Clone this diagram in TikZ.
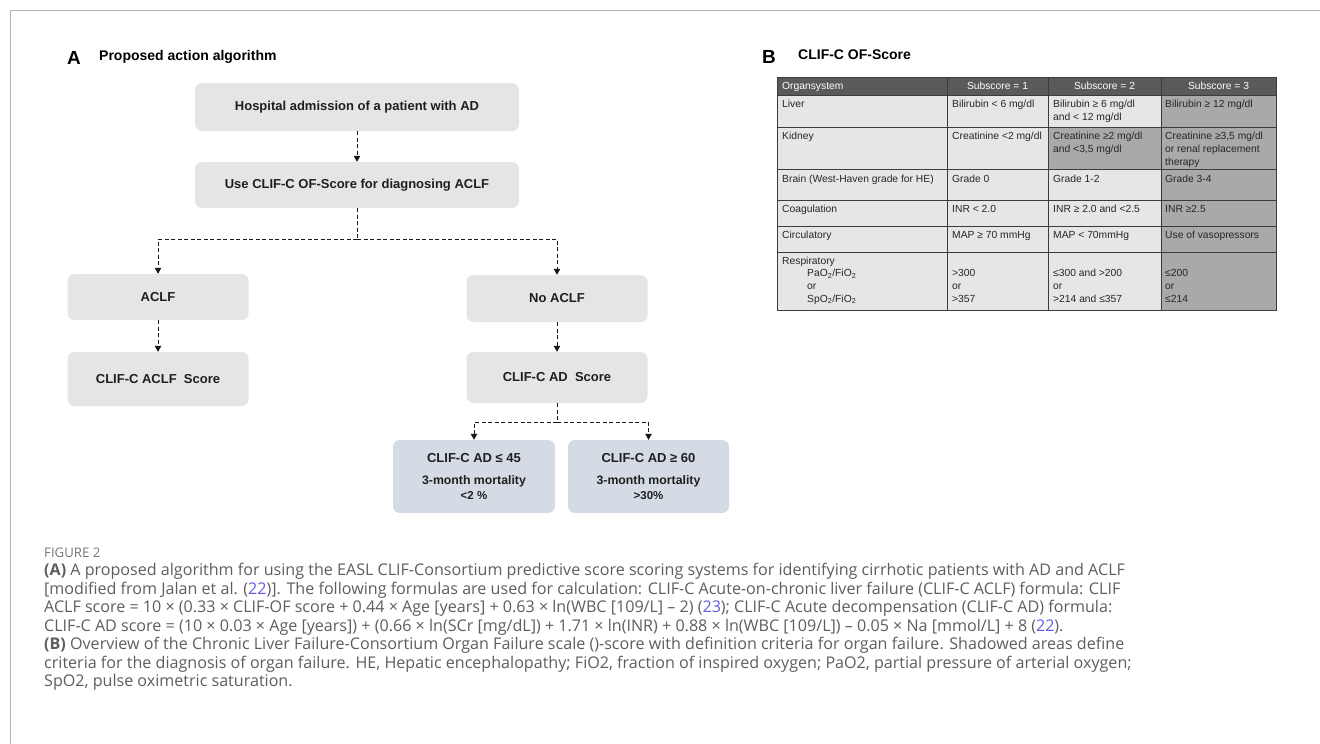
\documentclass[tikz,border=0pt]{standalone}
\usepackage{fontspec}
\setmainfont{Liberation Sans}
\newfontfamily\capfont{Open Sans}
\usetikzlibrary{arrows.meta}
\definecolor{boxgray}{HTML}{E6E5E6}
\definecolor{boxblue}{HTML}{D5DBE4}
\definecolor{hdr}{HTML}{5A5A5A}
\definecolor{cellL}{HTML}{E7E6E7}
\definecolor{cellD}{HTML}{ABA8A9}
\definecolor{gridc}{HTML}{3C3C3C}
\definecolor{capgray}{HTML}{5E5E5E}
\definecolor{figgray}{HTML}{767676}
\definecolor{refblue}{HTML}{5F5FE0}
\definecolor{framec}{HTML}{B4B4B4}
\newcount\tcnt
\newcommand\tabfont{\fontsize{10.3}{12.7}\selectfont}
\newcommand\ct[3]{\global\advance\tcnt by 1\relax
  \node[tabtxt] (tt\the\tcnt) at (#1,#2) {#3};}
\newcommand\capline[2]{\global\advance\tcnt by 1\relax
  \node[captxt] (cl\the\tcnt) at (44,#1) {#2};}
\newcommand\rf[1]{\textcolor{refblue}{#1}}
\begin{document}
\begin{tikzpicture}[x=1pt,y=-1pt,
  fbox/.style={rounded corners=7pt, fill=boxgray, draw=none, inner sep=0pt,
    font=\fontsize{13}{15}\selectfont\bfseries, text=black!88},
  bbox/.style={fbox, fill=boxblue, align=center},
  arr/.style={draw=black!90, line width=0.8pt, dash pattern=on 4pt off 2.5pt,
    -{Triangle[width=6.5pt,length=6pt]}},
  dline/.style={draw=black!90, line width=0.8pt, dash pattern=on 4pt off 2.5pt},
  tabtxt/.style={anchor=base west, inner sep=0pt, font=\tabfont, text=black!85},
  hdrtxt/.style={anchor=base, inner sep=0pt, font=\tabfont, text=white},
  captxt/.style={anchor=base west, inner sep=0pt,
    font=\capfont\fontsize{16.1}{18}\selectfont, text=capgray},
  lbl/.style={anchor=base west, inner sep=0pt, font=\fontsize{19}{20}\selectfont\bfseries},
  ttl/.style={anchor=base west, inner sep=0pt, font=\fontsize{14}{16}\selectfont\bfseries}
]
\useasboundingbox (0,0) rectangle (1320,744);
\fill[white] (0,0) rectangle (1320,744);
% frame
\draw[framec, line width=1.4pt] (1320,10.5) -- (10.5,10.5) -- (10.5,744);

% ---------- panel A ----------
\node[lbl] (la) at (67,64) {A};
\node[ttl] (ta) at (99,60) {Proposed action algorithm};

\node[fbox, minimum width=324pt, minimum height=48pt] (b1) at (357,107) {Hospital admission of a patient with AD};
\node[fbox, minimum width=324pt, minimum height=46pt] (b2) at (357,185) {Use CLIF-C OF-Score for diagnosing ACLF};
\node[fbox, minimum width=181pt, minimum height=46pt] (aclf) at (158,297) {ACLF};
\node[fbox, minimum width=181pt, minimum height=54pt] (caclf) at (158,379) {CLIF-C ACLF\ \ Score};
\node[fbox, minimum width=181pt, minimum height=47pt] (noaclf) at (557,298.5) {No ACLF};
\node[fbox, minimum width=181pt, minimum height=51pt] (cad) at (557,377.5) {CLIF-C AD\ \ Score};
\node[bbox, minimum width=162pt, minimum height=73pt] (low) at (474,476.5)
  {CLIF-C AD ≤ 45\\[7pt]{\fontsize{12.3}{15}\selectfont 3-month mortality}\\{\fontsize{11.5}{14}\selectfont <2 \%}};
\node[bbox, minimum width=161pt, minimum height=73pt] (high) at (648.5,476.5)
  {CLIF-C AD ≥ 60\\[7pt]{\fontsize{12.3}{15}\selectfont 3-month mortality}\\{\fontsize{11.5}{14}\selectfont >30\%}};

\coordinate (j1) at (357,239);
\coordinate (j2) at (557,422);
\draw[arr] (b1) -- (b2);
\draw[dline] (b2.south) -- (j1);
\draw[arr] (j1) -| (aclf.north);
\draw[arr] (j1) -| (noaclf.north);
\draw[arr] (aclf) -- (caclf);
\draw[arr] (noaclf) -- (cad);
\draw[dline] (cad.south) -- (j2);
\draw[arr] (j2) -| (low.north);
\draw[arr] (j2) -| (high.north);

% ---------- panel B ----------
\node[lbl] (lb) at (762,63) {B};
\node[ttl] (tb) at (798,59.5) {CLIF-C OF-Score};

\fill[cellL] (777,95) rectangle (1276,310);
\fill[cellD] (1161,95) rectangle (1276,310);
\fill[cellD] (1048,127) rectangle (1161,169);
\fill[hdr] (777,77) rectangle (1276,95);
\draw[gridc, line width=0.9pt]
  (777,77) rectangle (1276,310)
  (777,95) -- (1276,95)
  (777,127) -- (1276,127)
  (777,169) -- (1276,169)
  (777,200) -- (1276,200)
  (777,226) -- (1276,226)
  (777,252) -- (1276,252)
  (947,77) -- (947,310)
  (1048,77) -- (1048,310)
  (1161,77) -- (1161,310);

\ct{782}{89.7}{\textcolor{white}{Organsystem}}
\node[hdrtxt] (h1) at (997.5,89.7) {Subscore = 1};
\node[hdrtxt] (h2) at (1104.5,89.7) {Subscore = 2};
\node[hdrtxt] (h3) at (1218.5,89.7) {Subscore = 3};

% Liver
\ct{782}{107.7}{Liver}
\ct{952}{107.7}{Bilirubin < 6 mg/dl}
\ct{1053}{107.7}{Bilirubin ≥ 6 mg/dl}
\ct{1053}{120.4}{and < 12 mg/dl}
\ct{1165}{107.7}{Bilirubin ≥ 12 mg/dl}
% Kidney
\ct{782}{139.7}{Kidney}
\ct{952}{139.7}{Creatinine <2 mg/dl}
\ct{1053}{139.7}{Creatinine ≥2 mg/dl}
\ct{1053}{152.4}{and <3,5 mg/dl}
\ct{1165}{139.7}{Creatinine ≥3,5 mg/dl}
\ct{1165}{152.4}{or renal replacement}
\ct{1165}{165.1}{therapy}
% Brain
\ct{782}{182.5}{Brain (West-Haven grade for HE)}
\ct{952}{182.5}{Grade 0}
\ct{1053}{182.5}{Grade 1-2}
\ct{1165}{182.5}{Grade 3-4}
% Coagulation
\ct{782}{212.7}{Coagulation}
\ct{952}{212.7}{INR < 2.0}
\ct{1053}{212.7}{INR ≥ 2.0 and <2.5}
\ct{1165}{212.7}{INR ≥2.5}
% Circulatory
\ct{782}{238}{Circulatory}
\ct{952}{238}{MAP ≥ 70 mmHg}
\ct{1053}{238}{MAP < 70mmHg}
\ct{1165}{238}{Use of vasopressors}
% Respiratory
\ct{782}{264}{Respiratory}
\ct{807}{276.7}{PaO\textsubscript{2}/FiO\textsubscript{2}}
\ct{807}{289.4}{or}
\ct{807}{302.1}{SpO\textsubscript{2}/FiO\textsubscript{2}}
\ct{952}{276.7}{>300}
\ct{952}{289.4}{or}
\ct{952}{302.1}{>357}
\ct{1053}{276.7}{≤300 and >200}
\ct{1053}{289.4}{or}
\ct{1053}{302.1}{>214 and ≤357}
\ct{1165}{276.7}{≤200}
\ct{1165}{289.4}{or}
\ct{1165}{302.1}{≤214}

% ---------- caption ----------
\node[anchor=base west, inner sep=0pt, font=\capfont\fontsize{13.2}{16}\selectfont, text=figgray] (fig) at (44,557) {FIGURE 2};
\capline{575.5}{\textbf{(A)} A proposed algorithm for using the EASL CLIF-Consortium predictive score scoring systems for identifying cirrhotic patients with AD and ACLF}
\capline{594}{[modified from Jalan et al. (\rf{22})]. The following formulas are used for calculation: CLIF-C Acute-on-chronic liver failure (CLIF-C ACLF) formula: CLIF}
\capline{612.5}{ACLF score = 10 × (0.33 × CLIF-OF score + 0.44 × Age [years] + 0.63 × ln(WBC [109/L] – 2) (\rf{23}); CLIF-C Acute decompensation (CLIF-C AD) formula:}
\capline{631}{CLIF-C AD score = (10 × 0.03 × Age [years]) + (0.66 × ln(SCr [mg/dL]) + 1.71 × ln(INR) + 0.88 × ln(WBC [109/L]) – 0.05 × Na [mmol/L] + 8 (\rf{22}).}
\capline{649.5}{\textbf{(B)} Overview of the Chronic Liver Failure-Consortium Organ Failure scale ()-score with definition criteria for organ failure. Shadowed areas define}
\capline{668}{criteria for the diagnosis of organ failure. HE, Hepatic encephalopathy; FiO2, fraction of inspired oxygen; PaO2, partial pressure of arterial oxygen;}
\capline{686.5}{SpO2, pulse oximetric saturation.}
\end{tikzpicture}
\end{document}
